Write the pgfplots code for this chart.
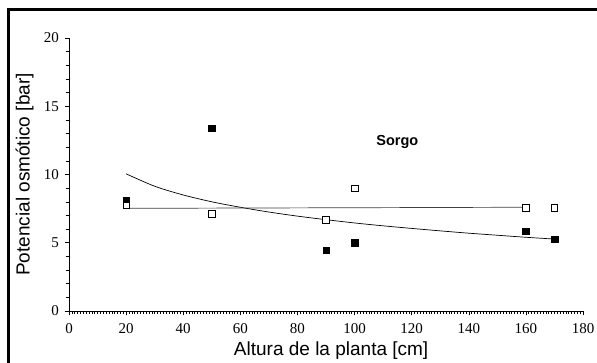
\documentclass[border=0pt]{standalone}
\usepackage{fontspec}
\setmainfont{Liberation Serif}
\newfontfamily\arial{Liberation Sans}
\usepackage{pgfplots}
\pgfplotsset{compat=1.18}

% Sorgo: potencial osmótico frente a altura de la planta
\begin{document}
\begin{tikzpicture}[x=1pt,y=1pt]
\useasboundingbox (0,0) rectangle (597,363);
% marco exterior (bordes superior e izquierdo)
\draw[line width=3pt] (8,-5) -- (8,353) -- (605,353);

\begin{axis}[
  at={(69pt,52pt)}, anchor=south west,
  scale only axis, width=514pt, height=273pt,
  xmin=0, xmax=180, ymin=0, ymax=20,
  axis lines=left,
  axis line style={-, line width=0.6pt},
  xtick={0,20,...,180}, ytick={0,5,...,20},
  minor x tick num=19, minor y tick num=4,
  tick align=outside,
  major tick length=4.5pt, minor tick length=3pt,
  every tick/.style={black, line width=0.5pt},
  /pgf/number format/assume math mode=true,
  xticklabel={\fontsize{15}{17}\selectfont\pgfmathprintnumber{\tick}},
  yticklabel={\fontsize{15}{17}\selectfont\pgfmathprintnumber{\tick}},
  xticklabel style={yshift=-4pt},
  yticklabel style={xshift=-2pt},
  xlabel={\arial\fontsize{19}{21}\selectfont Altura de la planta [cm]},
  ylabel={\arial\fontsize{19}{21}\selectfont Potencial osmótico [bar]},
  xlabel style={at={(axis description cs:0.51,0)}, anchor=north, yshift=-27pt},
  ylabel style={at={(axis description cs:0,0.5)}, anchor=south, yshift=32pt},
  clip=false,
]
% curva de ajuste de los valores rellenos
\addplot[black, line width=0.7pt, smooth] coordinates {
  (20,10.05) (30,9.14) (40,8.50) (50,8.00) (60,7.60) (70,7.25) (80,6.95)
  (90,6.69) (100,6.45) (110,6.24) (120,6.05) (130,5.87) (140,5.70)
  (150,5.55) (160,5.40) (170,5.27)
};
% recta de ajuste de los valores vacíos
\addplot[black!75, line width=0.7pt] coordinates {(20,7.52) (160,7.60)};
% valores rellenos
\addplot[only marks, mark=square*, mark size=3.3pt, mark options={fill=black, draw=black}]
  coordinates {(20,8.1) (50,13.4) (90,4.45) (100,5.0) (160,5.85) (170,5.25)};
% valores vacíos
\addplot[only marks, mark=square*, mark size=3.3pt, mark options={fill=white, draw=black, line width=0.6pt}]
  coordinates {(20,7.75) (50,7.1) (90,6.7) (100,9.0) (160,7.55) (170,7.55)};
\node[font=\arial\bfseries\fontsize{14.5}{16}\selectfont] at (axis cs:115,12.35) {Sorgo};
\end{axis}
\end{tikzpicture}
\end{document}
